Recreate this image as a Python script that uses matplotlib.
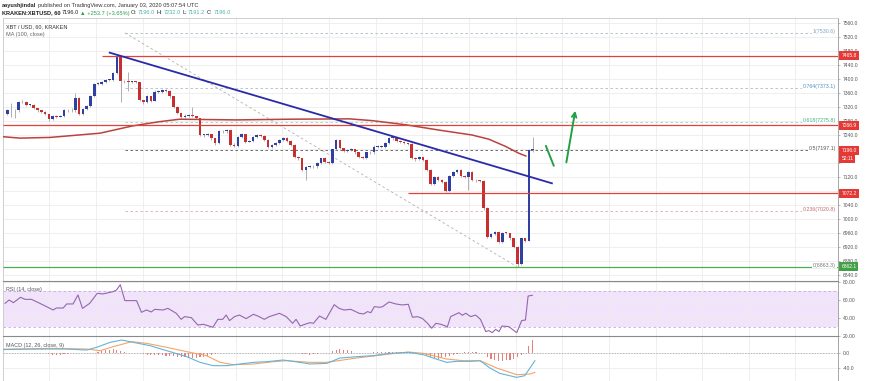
import matplotlib
matplotlib.use('Agg')
import matplotlib.pyplot as plt
import matplotlib.transforms as mtransforms
import numpy as np

plt.rcParams['font.family'] = ['Liberation Sans', 'DejaVu Sans']

# ---- data (hourly XBT/USD, Kraken) ----
first_open = 7299
closes = [7309, 7309, 7311, 7332, 7334, 7324, 7325, 7315, 7309, 7305,
          7299, 7284, 7292, 7291, 7293, 7309, 7309, 7311, 7344, 7299,
          7312, 7322, 7349, 7385, 7385, 7389, 7396, 7396, 7415, 7463,
          7392, 7392, 7391, 7391, 7390, 7339, 7332, 7349, 7337, 7363,
          7363, 7366, 7365, 7349, 7320, 7301, 7291, 7294, 7296, 7292,
          7287, 7239, 7239, 7242, 7230, 7215, 7249, 7249, 7252, 7211,
          7208, 7234, 7242, 7220, 7223, 7234, 7239, 7236, 7225, 7206,
          7211, 7217, 7225, 7230, 7223, 7211, 7177, 7172, 7139, 7147,
          7150, 7149, 7160, 7172, 7163, 7158, 7198, 7225, 7201, 7194,
          7196, 7198, 7189, 7177, 7173, 7189, 7189, 7206, 7206, 7206,
          7217, 7230, 7230, 7223, 7220, 7215, 7213, 7173, 7170, 7175,
          7168, 7139, 7099, 7120, 7111, 7106, 7080, 7122, 7134, 7139,
          7122, 7120, 7134, 7111, 7109, 7107, 7030, 6949, 6956, 6963,
          6934, 6960, 6958, 6944, 6920, 6871, 6944, 6937, 7196, 7196]
highs = [7312, 7330, 7314, 7336, 7338, 7336, 7328, 7326, 7316, 7310,
         7307, 7300, 7295, 7295, 7297, 7312, 7313, 7316, 7360, 7346,
         7315, 7325, 7352, 7388, 7390, 7392, 7399, 7400, 7418, 7466,
         7465, 7396, 7420, 7394, 7393, 7391, 7340, 7352, 7351, 7366,
         7367, 7370, 7369, 7367, 7350, 7321, 7303, 7298, 7299, 7320,
         7294, 7288, 7243, 7246, 7243, 7231, 7252, 7252, 7256, 7253,
         7216, 7237, 7246, 7243, 7226, 7237, 7242, 7241, 7238, 7227,
         7214, 7220, 7228, 7233, 7232, 7226, 7212, 7180, 7174, 7150,
         7153, 7152, 7162, 7174, 7175, 7165, 7200, 7228, 7226, 7203,
         7199, 7201, 7200, 7190, 7179, 7191, 7192, 7209, 7209, 7210,
         7219, 7233, 7233, 7232, 7225, 7222, 7217, 7215, 7176, 7178,
         7177, 7170, 7141, 7122, 7123, 7113, 7108, 7124, 7137, 7142,
         7141, 7125, 7136, 7136, 7113, 7111, 7109, 7032, 6960, 6966,
         6965, 6962, 6962, 6960, 6946, 6922, 6946, 6946, 7200, 7232]
lows = [7296, 7290, 7287, 7306, 7330, 7321, 7321, 7312, 7306, 7302,
        7296, 7280, 7282, 7288, 7289, 7290, 7305, 7306, 7306, 7296,
        7296, 7309, 7319, 7346, 7381, 7383, 7386, 7392, 7393, 7412,
        7334, 7388, 7364, 7387, 7386, 7336, 7328, 7329, 7334, 7335,
        7359, 7360, 7361, 7345, 7316, 7298, 7288, 7288, 7290, 7289,
        7284, 7235, 7234, 7236, 7226, 7211, 7212, 7244, 7246, 7207,
        7204, 7205, 7230, 7217, 7218, 7220, 7231, 7232, 7222, 7203,
        7203, 7208, 7214, 7222, 7220, 7208, 7174, 7168, 7136, 7111,
        7144, 7146, 7146, 7157, 7160, 7155, 7155, 7195, 7199, 7191,
        7191, 7193, 7186, 7174, 7170, 7170, 7186, 7186, 7203, 7203,
        7203, 7214, 7226, 7220, 7217, 7212, 7210, 7170, 7166, 7167,
        7164, 7136, 7096, 7096, 7108, 7103, 7076, 7077, 7119, 7131,
        7119, 7117, 7082, 7108, 7106, 7104, 7026, 6944, 6945, 6953,
        6930, 6930, 6955, 6940, 6916, 6863, 6868, 6933, 6935, 7191]

# MA (100, close), sampled along the curve
ma_idx = [-1.1, 3.4, 11.3, 24.5, 33.2, 40.3, 45.6, 60.6, 74.6, 90.5,
          96.5, 105.5, 114.2, 122.9, 127.4, 131.9, 135.3, 137.2]
ma_val = [7234, 7230, 7232, 7244, 7265, 7277, 7284, 7282, 7284, 7285,
          7280, 7268, 7253, 7239, 7227, 7206, 7187, 7179]

# horizontal levels and trend line
res_top = 7465.8
res_mid = 7266.9
sup_mid = 7072.2
sup_low = 6862.1
last_price = 7196.0
trend_idx = [27.1, 144.1]
trend_val = [7474, 7101]

# fib retracement
fib_anchor_idx = [31.1, 134.8]
fib_anchor_val = [7530.6, 6863.3]
fib_ratios = ["1", "0.764", "0.618", "0.5", "0.236", "0"]
fib_levels = [7530.6, 7373.1, 7275.8, 7197.1, 7020.8, 6863.3]
fib_line_colors = ['#a9bccb', '#a9bccb', '#9fd1bf', '#555555', '#d9a9a9', '#a0a0a0']
fib_text_colors = ['#7ea3c4', '#4f8fc4', '#3aae8c', '#555555', '#c46a6a', '#777777']

# RSI (14, close)
rsi_idx = [-0.6, 0.5, 1.6, 3.5, 4.7, 6.4, 8.6, 11.3, 12.1, 13.0,
           14.8, 15.7, 17.4, 18.7, 19.9, 21.8, 23.8, 25.3, 28.0, 28.9,
           29.9, 31.1, 34.2, 35.5, 36.8, 38.1, 39.0, 41.2, 42.5, 44.7,
           46.0, 46.9, 48.7, 50.4, 51.9, 54.4, 55.7, 57.0, 57.9, 58.8,
           60.1, 61.4, 63.2, 65.1, 66.3, 68.0, 69.3, 72.0, 73.8, 75.5,
           76.4, 77.5, 79.0, 80.1, 81.0, 82.6, 84.3, 86.5, 87.8, 89.1,
           90.9, 93.1, 94.3, 95.3, 96.2, 97.1, 98.6, 99.3, 101.0, 102.8,
           104.4, 106.1, 107.2, 108.5, 109.8, 111.2, 112.3, 113.4, 114.7, 116.0,
           116.4, 117.3, 118.2, 119.5, 120.4, 121.3, 122.6, 123.9, 125.2, 126.6,
           127.4, 128.3, 129.2, 130.1, 130.9, 132.7, 134.8, 136.1, 137.1, 137.8,
           138.9]
rsi_val = [56.0, 59.7, 56.7, 62.7, 60.4, 60.4, 56.0, 50.4, 48.6, 50.8,
           50.8, 55.3, 55.3, 65.3, 50.4, 56.0, 67.1, 66.4, 69.0, 70.8,
           76.7, 59.0, 59.0, 46.0, 48.6, 46.4, 49.3, 48.6, 50.4, 44.9,
           38.2, 41.2, 40.1, 31.9, 32.7, 29.4, 38.2, 38.2, 43.0, 36.8,
           41.2, 43.0, 39.0, 43.8, 41.9, 38.2, 41.2, 44.9, 41.2, 33.8,
           38.2, 30.8, 33.1, 34.5, 33.8, 41.9, 38.2, 54.5, 50.4, 48.6,
           49.3, 44.9, 44.2, 46.8, 45.6, 52.3, 51.6, 52.3, 57.5, 55.3,
           54.2, 54.9, 40.5, 41.2, 39.3, 33.8, 28.3, 33.8, 32.7, 30.8,
           29.4, 41.2, 43.0, 45.6, 42.7, 45.0, 41.2, 43.0, 38.2, 24.6,
           25.7, 23.4, 27.1, 24.6, 30.8, 30.1, 23.4, 36.8, 37.5, 64.1,
           64.9]

# MACD (12, 26, close, 9)
macd_idx = [-1, 5, 11.3, 15.7, 21.0, 23.6, 27.2, 30.3, 33.3, 37.8,
            42.2, 47.5, 51.0, 54.5, 58.0, 61.6, 65.1, 68.6, 73.0, 77.4,
            80.1, 84.5, 88.0, 92.4, 96.8, 101.2, 106.1, 110.1, 112.7, 116.2,
            118.9, 122.4, 125.1, 127.7, 130.3, 134.8, 136.9, 138.3, 139.6]
macd_val = [8.0, 9.0, 9.4, 9.4, 6.8, 13.7, 26.5, 32.5, 26.5, 18.0,
            5.1, -10.3, -24.8, -33.3, -33.3, -29.0, -24.8, -23.1, -18.8, -24.8,
            -29.0, -27.4, -13.7, -10.3, -7.7, -1.7, 0.9, -5.1, -13.7, -24.8,
            -22.2, -22.2, -20.5, -39.3, -53.0, -63.3, -59.0, -39.3, -20.5]
signal_idx = [-1, 5, 11.3, 21.0, 24.5, 28.0, 32.9, 36.9, 42.2, 47.5,
              52.7, 56.3, 59.8, 65.1, 70.4, 73.9, 80.1, 84.5, 92.4, 101.2,
              106.1, 110.1, 116.2, 120.6, 125.1, 129.5, 134.8, 138.3, 139.6]
signal_val = [9.0, 10.0, 11.1, 9.4, 5.1, 15.4, 28.2, 23.9, 13.7, 2.6,
              -7.7, -24.8, -30.8, -29.0, -23.1, -20.5, -24.8, -24.8, -13.7, -3.4,
              1.7, -1.7, -16.2, -20.5, -20.5, -39.3, -56.4, -54.7, -50.4]
hist_idx = [11, 12, 13, 14, 15, 16,
            24, 25, 26, 27, 28, 29, 30, 31,
            36, 37, 38, 39, 40, 41, 42, 43, 44, 45, 46, 47, 48, 49, 50, 51, 52, 53, 54, 55,
            78, 79, 80, 81, 82,
            86, 87, 88, 89, 90, 91,
            97, 98, 99, 100, 101, 102, 103, 104, 105, 106,
            110, 111, 112, 113, 114, 115, 116, 117, 118, 119,
            121, 122, 123, 124,
            127, 128, 129, 130, 131, 132, 133, 134, 135, 136,
            138, 139]
hist_val = [-4, -5, -5, -5, -4, -4,
            3, 5, 7, 8, 9, 7, 5, 3,
            -4, -5, -5, -6, -7, -7, -8, -9, -9, -10, -11, -12, -13, -14, -13, -12, -10, -8, -6, -4,
            -3, -4, -5, -4, -3,
            5, 8, 9, 8, 6, 4,
            2, 2, 3, 3, 3, 2, 2, 2, 1, 1,
            -4, -7, -10, -13, -15, -14, -12, -9, -6, -4,
            1, 1, 1, 1,
            -12, -16, -19, -21, -22, -20, -18, -15, -12, -6,
            17, 32]

# green hand-drawn arrows (idx, price)
stroke_idx = [142.5, 144.6]
stroke_val = [7208, 7151]
arrow_idx = [147.8, 150.4]
arrow_val = [7153, 7316]

BLUE = '#2f3fa3'
RED = '#c7302f'
LABEL_RED = '#e53935'
LABEL_GREEN = '#43a047'
GRID = '#ececec'
W, H = 870, 381


def px_box(x0, y0, x1, y1):
    return [x0 / W, 1 - y1 / H, (x1 - x0) / W, (y1 - y0) / H]


fig = plt.figure(figsize=(W / 100, H / 100), dpi=100)
ax = fig.add_axes(px_box(3, 18, 838, 281))
ax_rsi = fig.add_axes(px_box(3, 281, 838, 336), sharex=ax)
ax_macd = fig.add_axes(px_box(3, 336, 838, 381), sharex=ax)

x_left, x_right = -1.14, 219.8
grid_x = np.arange(11.11, x_right, 12.34)

for a in (ax, ax_rsi, ax_macd):
    a.set_xlim(x_left, x_right)
    a.set_xticks(grid_x)
    a.tick_params(axis='x', length=0, labelbottom=False)
    a.yaxis.tick_right()
    a.tick_params(axis='y', length=1.5, width=0.4, color='#888888', pad=2,
                  labelsize=3.6, labelcolor='#555555')
    a.grid(True, color=GRID, lw=0.6, zorder=0)
    a.set_axisbelow(True)
    for s in a.spines.values():
        s.set_color('#c8c8c8')
        s.set_linewidth(0.6)
    a.spines['right'].set_color('#999999')

ax_rsi.spines['top'].set_color('#8a8a8a')
ax_macd.spines['top'].set_color('#8a8a8a')
ax_macd.spines['top'].set_linewidth(0.8)
ax_rsi.spines['top'].set_linewidth(0.8)

# ---- main price panel ----
closes = np.array(closes, dtype=float)
opens = np.r_[first_open, closes[:-1]]
idx = np.arange(len(closes))
colors = np.where(closes >= opens, BLUE, RED)
ax.vlines(idx, lows, highs, colors='#9a9a9a', lw=0.55, zorder=3)
body_h = np.maximum(np.abs(closes - opens), 2.5)
ax.bar(idx, body_h, bottom=np.minimum(opens, closes), width=0.7,
       color=colors, lw=0, zorder=4)

ax.set_ylim(6822, 7573)
yt = np.arange(6840, 7561, 40)
ax.set_yticks(yt)
# labels sitting under the price badges are hidden, as on the chart
hidden = (7080, 7160, 7200)
ax.set_yticklabels(["" if v in hidden else f"{v:.1f}" for v in yt])

ax.plot(ma_idx, ma_val, color='#b9433f', lw=1.1, zorder=5)
ax.hlines(res_top, 25, x_right, color='#e0413d', lw=0.9, zorder=5)
ax.hlines(res_mid, x_left, x_right, color='#e0413d', lw=0.9, zorder=5)
ax.hlines(sup_mid, 106, x_right, color='#e0413d', lw=0.9, zorder=5)
ax.hlines(sup_low, x_left, x_right, color='#4caf50', lw=0.9, zorder=5)

# fib retracement
ax.plot(fib_anchor_idx, fib_anchor_val, color='#b0b0b0', lw=0.6,
        ls=(0, (3, 3)), zorder=2)
fib_right = 219.2
for r, lv, lc, tc in zip(fib_ratios, fib_levels, fib_line_colors, fib_text_colors):
    ax.hlines(lv, fib_anchor_idx[0], fib_right, color=lc, lw=0.6,
              linestyles=(0, (3, 3)), zorder=2)
    ax.text(fib_right, lv + 4, f"{r}({lv:.1f})", ha='right', va='center',
            fontsize=3.8, color=tc, zorder=6,
            bbox=dict(boxstyle='square,pad=0.15', fc='white', ec='none'))

ax.plot(trend_idx, trend_val, color='#2a2aa8', lw=1.3, zorder=6)

green = '#23a045'
ax.plot(stroke_idx, stroke_val, color=green, lw=1.4, solid_capstyle='round', zorder=7)
ax.annotate('', xy=(arrow_idx[1], arrow_val[1]), xytext=(arrow_idx[0], arrow_val[0]),
            arrowprops=dict(arrowstyle='->', color=green, lw=1.4,
                            mutation_scale=8), zorder=7)

ax.text(0.004, 0.968, "XBT / USD, 60, KRAKEN", transform=ax.transAxes,
        fontsize=4, color='#333333', va='center')
ax.text(0.004, 0.938, "MA (100, close)", transform=ax.transAxes,
        fontsize=4, color='#666666', va='center')

# price scale badges
bt = mtransforms.blended_transform_factory(ax.transAxes, ax.transData)
for val, fc in [(res_top, LABEL_RED), (res_mid, LABEL_RED), (last_price, LABEL_RED),
                (sup_mid, LABEL_RED), (sup_low, LABEL_GREEN)]:
    ax.text(1.004, val, f"{val:.1f}", transform=bt, ha='left', va='center',
            fontsize=3.6, color='white', zorder=20, clip_on=False,
            bbox=dict(boxstyle='square,pad=0.4', fc=fc, ec='none'))
ax.annotate("52:11", xy=(1.004, last_price), xycoords=bt, xytext=(0, -6),
            textcoords='offset points', ha='left', va='center', fontsize=3.6,
            color='white', zorder=20, annotation_clip=False,
            bbox=dict(boxstyle='square,pad=0.4', fc=LABEL_RED, ec='none'))

# ---- RSI panel ----
ax_rsi.set_ylim(19.7, 80.8)
ax_rsi.axhspan(30, 70, color='#f1e4fa', zorder=0.5, lw=0)
for lv in (30, 70):
    ax_rsi.axhline(lv, color='#c7a9dd', lw=0.6, ls=(0, (3, 3)), zorder=1)
ax_rsi.plot(rsi_idx, rsi_val, color='#9466b0', lw=0.8, zorder=3)
ax_rsi.set_yticks([20, 40, 60, 80])
ax_rsi.set_yticklabels(["20.00", "40.00", "60.00", "80.00"])
ax_rsi.text(0.004, 0.84, "RSI (14, close)", transform=ax_rsi.transAxes,
            fontsize=3.9, color='#555555', va='center')

# ---- MACD panel ----
ax_macd.set_ylim(-72.6, 42.8)
ax_macd.axhline(0, color='#a0a0a0', lw=0.5, ls=(0, (2, 2)), zorder=1)
ax_macd.bar(hist_idx, hist_val, width=0.3, color='#e57f7a', lw=0, zorder=2)
ax_macd.plot(signal_idx, signal_val, color='#f2a56a', lw=0.8, zorder=3)
ax_macd.plot(macd_idx, macd_val, color='#63b4d9', lw=0.8, zorder=4)
ax_macd.set_yticks([-40, 0])
ax_macd.set_yticklabels(["-40.0", "0.0"])
ax_macd.text(0.004, 0.8, "MACD (12, 26, close, 9)", transform=ax_macd.transAxes,
             fontsize=3.9, color='#555555', va='center')

# ---- header lines ----
renderer = fig.canvas.get_renderer()


def header_row(pieces, x0, y):
    x = x0
    for s, c, w in pieces:
        t = fig.text(x / W, 1 - y / H, s, color=c, fontweight=w, fontsize=4.1,
                     ha='left', va='center')
        x = t.get_window_extent(renderer).x1 + 1.2


header_row([("aayushjindal", '#222222', 'bold'),
            ("published on TradingView.com, January 03, 2020 05:07:54 UTC", '#333333', 'normal')],
           2, 5)
teal = '#4fb3a9'
header_row([("KRAKEN:XBTUSD, 60", '#222222', 'bold'),
            ("7196.0", '#222222', 'normal'),
            ("\u25b2 +253.7 (+3.65%)", '#2e9e4f', 'normal'),
            ("O:", '#222222', 'normal'), ("7196.0", teal, 'normal'),
            ("H:", '#222222', 'normal'), ("7232.0", teal, 'normal'),
            ("L:", '#222222', 'normal'), ("7191.2", teal, 'normal'),
            ("C:", '#222222', 'normal'), ("7196.0", teal, 'normal')],
           2, 13)

fig.savefig("out.png", dpi=100)
